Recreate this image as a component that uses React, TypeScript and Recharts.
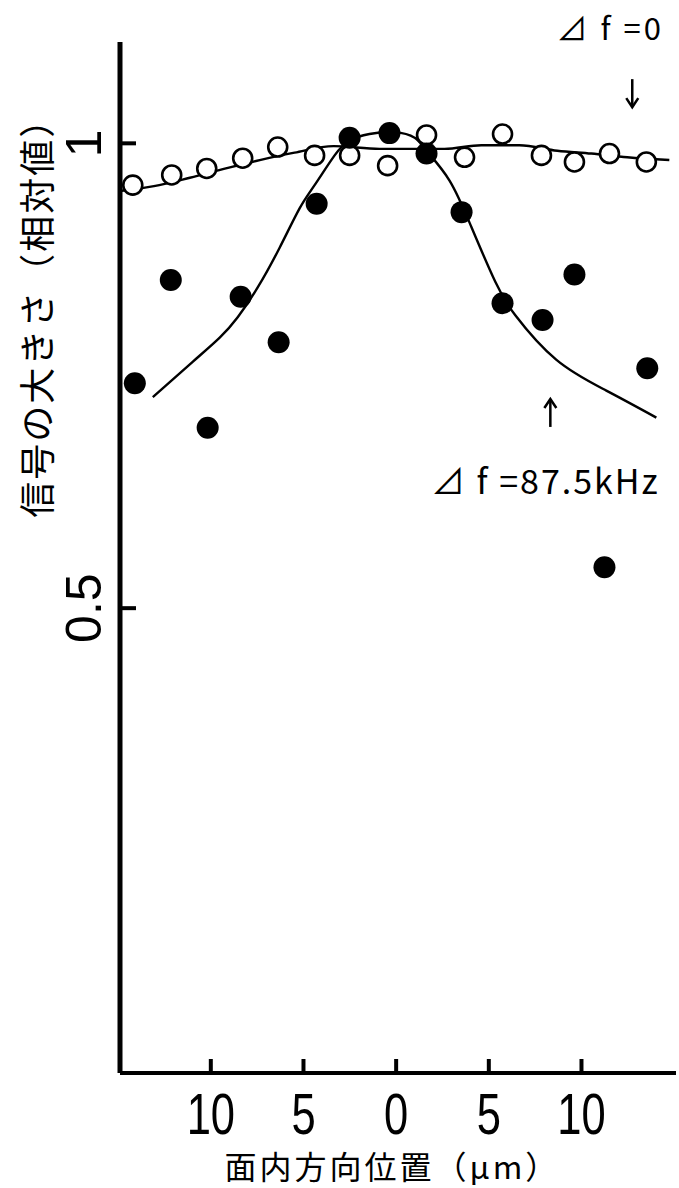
import React from "react";
import {
  ComposedChart,
  Line,
  ReferenceDot,
  Scatter,
  XAxis,
  YAxis
} from "recharts";

// position in µm (left side negative), relative signal
const openX = [-14.21, -12.11, -10.22, -8.28, -6.39, -4.4, -2.51, -0.46, 1.64, 3.69, 5.74, 7.84, 9.62, 11.51, 13.5];
const openV = [0.955, 0.966, 0.973, 0.984, 0.996, 0.987, 0.987, 0.976, 1.009, 0.985, 1.01, 0.987, 0.98, 0.989, 0.98];

const filledX = [-14.1, -12.16, -10.17, -8.39, -6.34, -4.29, -2.51, -0.36, 1.64, 3.53, 5.74, 7.9, 9.62, 11.24, 13.55];
const filledV = [0.742, 0.853, 0.694, 0.835, 0.786, 0.935, 1.006, 1.011, 0.989, 0.926, 0.828, 0.81, 0.859, 0.544, 0.758];

// fitted curve for Δf = 0
const flatX = [-14.8, -13.07, -11.13, -9.19, -7.36, -5.48, -3.38, -0.89, 1.26, 2.61, 4.6, 6.65, 8.7, 10.53, 12.47, 14.74];
const flatV = [0.949, 0.954, 0.963, 0.973, 0.982, 0.99, 0.997, 0.994, 0.994, 0.994, 0.998, 0.998, 0.992, 0.989, 0.985, 0.982];

// fitted curve for Δf = 87.5kHz
const peakX = [-13.13, -10.98, -9.52, -8.55, -7.47, -6.28, -5.21, -4.4, -3.32, -2.51, -1.44, -0.08, 1.0, 1.64, 2.88, 4.06, 5.35, 6.43, 8.65, 11.34, 14.04];
const peakV = [0.727, 0.765, 0.791, 0.813, 0.845, 0.888, 0.93, 0.955, 0.987, 1.003, 1.01, 1.012, 1.006, 0.992, 0.96, 0.91, 0.851, 0.815, 0.767, 0.734, 0.705];

const xTicks = [-10, -5, 0, 5, 10];
const yTicks = [0.5, 1];

const zip = (xs: number[], vs: number[]) => xs.map((x, i) => ({ x, v: vs[i] }));
const openData = zip(openX, openV);
const filledData = zip(filledX, filledV);
const flatData = zip(flatX, flatV);
const peakData = zip(peakX, peakV);

const numFont = "'Liberation Sans', Arial, sans-serif";
const jpFont = "'Noto Sans CJK JP', sans-serif";

const YTick = ({ x, y, payload }: any) => (
  <g>
    <line x1={x} x2={x + 16} y1={y} y2={y} stroke="#000" strokeWidth={4} />
    <text
      x={x - 36}
      y={y}
      transform={`rotate(-90, ${x - 36}, ${y})`}
      textAnchor="middle"
      dominantBaseline="central"
      fontSize={50}
      fontFamily={numFont}
      fill="#000"
    >
      {payload.value}
    </text>
  </g>
);

const XTick = ({ x, y, payload }: any) => (
  <g>
    <line x1={x} x2={x} y1={y} y2={y - 14} stroke="#000" strokeWidth={4} />
    <g transform={`translate(${x}, ${y + 41}) scale(0.75, 1)`}>
      <text textAnchor="middle" dominantBaseline="central" fontSize={58} fontFamily={numFont} fill="#000">
        {Math.abs(payload.value)}
      </text>
    </g>
  </g>
);

const OpenDot = (p: any) => (
  <circle cx={p.cx} cy={p.cy} r={9.5} fill="#fff" stroke="#000" strokeWidth={2.6} />
);
const FilledDot = (p: any) => <circle cx={p.cx} cy={p.cy} r={11} fill="#000" />;

const textAt = (str: string, size: number, rotate = false, spacing = 0) => (p: any) => (
  <text
    x={p.cx}
    y={p.cy}
    transform={rotate ? `rotate(-90, ${p.cx}, ${p.cy})` : undefined}
    textAnchor="middle"
    dominantBaseline="central"
    fontSize={size}
    fontFamily={jpFont}
    letterSpacing={spacing}
    fill="#000"
  >
    {str}
  </text>
);

const arrowAt = (down: boolean) => (p: any) => {
  const d = down ? 1 : -1;
  return (
    <g stroke="#000" strokeWidth={2.5} fill="none">
      <line x1={p.cx} x2={p.cx} y1={p.cy - 14 * d} y2={p.cy + 14 * d} />
      <path d={`M ${p.cx - 6} ${p.cy + 5 * d} L ${p.cx} ${p.cy + 14 * d} L ${p.cx + 6} ${p.cy + 5 * d}`} />
    </g>
  );
};

export default function App() {
  return (
    <div style={{ position: "absolute", left: 0, top: 0, width: 679, height: 1188, background: "#fff" }}>
      <ComposedChart width={679} height={1188} margin={{ top: 42, right: 3, left: 0, bottom: 0 }}>
        <XAxis
          dataKey="x"
          type="number"
          domain={[-14.9, 15.1]}
          allowDataOverflow
          ticks={xTicks}
          tick={<XTick />}
          tickLine={false}
          tickSize={0}
          tickMargin={0}
          axisLine={{ stroke: "#000", strokeWidth: 4 }}
          height={115}
        />
        <YAxis
          type="number"
          domain={[0, 1.109]}
          allowDataOverflow
          ticks={yTicks}
          tick={<YTick />}
          tickLine={false}
          tickSize={0}
          tickMargin={0}
          axisLine={{ stroke: "#000", strokeWidth: 5 }}
          width={120}
        />
        <Line data={peakData} dataKey="v" type="natural" stroke="#000" strokeWidth={2.4} dot={false} isAnimationActive={false} />
        <Line data={flatData} dataKey="v" type="monotone" stroke="#000" strokeWidth={2.4} dot={false} isAnimationActive={false} />
        <Scatter data={openData} dataKey="v" shape={OpenDot} isAnimationActive={false} />
        <Scatter data={filledData} dataKey="v" shape={FilledDot} isAnimationActive={false} />

        <ReferenceDot x={11.55} y={1.126} ifOverflow="visible" shape={textAt("⊿ f =0", 31, false, 3)} />
        <ReferenceDot x={12.74} y={1.054} ifOverflow="visible" shape={arrowAt(true)} />
        <ReferenceDot x={8.32} y={0.71} ifOverflow="visible" shape={arrowAt(false)} />
        <ReferenceDot x={8.05} y={0.638} ifOverflow="visible" shape={textAt("⊿ f =87.5kHz", 34, false, 2)} />
        <ReferenceDot x={-19.5} y={0.822} ifOverflow="visible" shape={textAt("信号の大きさ（相対値）", 36, true, 2)} />
        <ReferenceDot x={-0.2} y={-0.099} ifOverflow="visible" shape={textAt("面内方向位置（μm）", 32, false, 3)} />
      </ComposedChart>
    </div>
  );
}
